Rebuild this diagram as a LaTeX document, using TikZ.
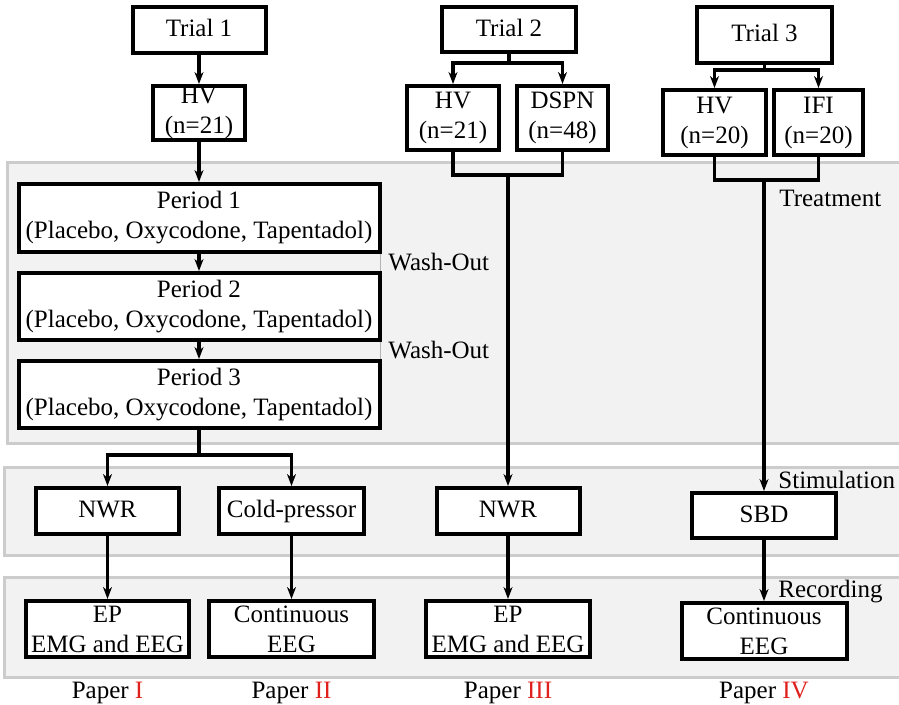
\documentclass[tikz,border=0pt]{standalone}
\usepackage{fontspec}
\setmainfont{Liberation Serif}
\usetikzlibrary{arrows.meta}
\definecolor{bandfill}{HTML}{F2F2F2}
\definecolor{bandline}{HTML}{CCCCCC}
\definecolor{papred}{HTML}{E0201B}
\begin{document}
\begin{tikzpicture}[x=0.5pt, y=-0.5pt,
                    font=\fontsize{12.5}{15}\selectfont,
                    bx/.style 2 args = {shape = rectangle,
                                        draw = black,
                                        fill = white,
                                        line width = 2pt,
                                        inner sep = 0pt,
                                        align = center,
                                        minimum width = #1*0.5pt,
                                        minimum height = #2*0.5pt},
                    oneline/.style = {text height = 0.66em, text depth = 0pt},
                    band/.style = {draw = bandline, fill = bandfill, line width = 1.5pt},
                    lbl/.style = {anchor = west, inner sep = 1pt},
                    arr/.style = {line width = 1.6pt, -{Stealth[length=6pt, width=4.5pt]}},
                    ln/.style = {line width = 1.6pt}]
	\useasboundingbox (0,0) rectangle (899,705);
	% background bands
	\begin{scope}
		\clip (0,0) rectangle (899,705);
		\draw[band] (7,163) rectangle (910,443);
		\draw[band] (4,467) rectangle (910,555);
		\draw[band] (4,577) rectangle (910,677);
		\draw[gray!60, line width=0.5pt] (380,183) -- (380,430);
	\end{scope}
	% trial 1
	\node[bx={133}{46}, oneline] (trialA) at (199,30) {Trial 1};
	\node[bx={92}{54}] (hvA) at (199,113) {HV\\(n=21)};
	\node[bx={361}{68}] (perA) at (199,218) {Period 1\\(Placebo, Oxycodone, Tapentadol)};
	\node[bx={361}{67}] (perB) at (199,306.5) {Period 2\\(Placebo, Oxycodone, Tapentadol)};
	\node[bx={361}{67}] (perC) at (199,394.5) {Period 3\\(Placebo, Oxycodone, Tapentadol)};
	\node[bx={143}{46}, oneline] (nwrA) at (107.5,511) {NWR};
	\node[bx={145}{46}, oneline] (cold) at (291.5,511) {Cold-pressor};
	\node[bx={163}{56}] (epA) at (107.5,629) {EP\\EMG and EEG};
	\node[bx={165}{56}] (contA) at (291.5,629) {Continuous\\EEG};
	% trial 2
	\node[bx={134}{45}, oneline] (trialB) at (509,29.5) {Trial 2};
	\node[bx={92}{64}] (hvB) at (453,118) {HV\\(n=21)};
	\node[bx={91}{64}] (dspn) at (562.5,118) {DSPN\\(n=48)};
	\node[bx={143}{46}, oneline] (nwrB) at (508,511) {NWR};
	\node[bx={164}{56}] (epB) at (508,629) {EP\\EMG and EEG};
	% trial 3
	\node[bx={135}{56}, oneline] (trialC) at (764.5,35) {Trial 3};
	\node[bx={103}{65}] (hvC) at (714.5,122.5) {HV\\(n=20)};
	\node[bx={89}{65}] (ifi) at (818.5,122.5) {IFI\\(n=20)};
	\node[bx={144}{45}, oneline] (sbd) at (764,515.5) {SBD};
	\node[bx={165}{56}] (contB) at (764,631) {Continuous\\EEG};
	% labels
	\node[lbl, fill=bandfill] (washA) at (386,262) {Wash-Out};
	\node[lbl, fill=bandfill] (washB) at (386,350) {Wash-Out};
	\node[lbl] (treat) at (777,198) {Treatment};
	\node[lbl] (stim) at (776,480) {Stimulation};
	\node[lbl] (rec) at (776,592) {Recording};
	\node (papA) at (107.5,693) {Paper \textcolor{papred}{I}};
	\node (papB) at (291.5,693) {Paper \textcolor{papred}{II}};
	\node (papC) at (508,693) {Paper \textcolor{papred}{III}};
	\node (papD) at (764,693) {Paper \textcolor{papred}{IV}};
	% split and merge points
	\coordinate (splitB) at (509,63);
	\coordinate (splitC) at (764.5,70);
	\coordinate (mergeB) at (508,175);
	\coordinate (mergeC) at (764,180);
	\coordinate (splitA) at (199,455);
	% trial 1 connectors
	\draw[arr] (trialA) -- (hvA);
	\draw[arr] (hvA) -- (perA);
	\draw[arr] (perA) -- (perB);
	\draw[arr] (perB) -- (perC);
	\draw[ln] (perC) -- (splitA);
	\draw[arr] (splitA) -| (nwrA.north);
	\draw[arr] (splitA) -| (cold.north);
	\draw[arr] (nwrA) -- (epA);
	\draw[arr] (cold) -- (contA);
	% trial 2 connectors
	\draw[ln] (trialB) -- (splitB);
	\draw[arr] (splitB) -| (hvB.north);
	\draw[arr] (splitB) -| (dspn.north);
	\draw[ln] (hvB.south) |- (mergeB);
	\draw[ln] (dspn.south) |- (mergeB);
	\draw[arr] (mergeB) -- (nwrB);
	\draw[arr] (nwrB) -- (epB);
	% trial 3 connectors
	\draw[ln] (trialC) -- (splitC);
	\draw[arr] (splitC) -| (hvC.north);
	\draw[arr] (splitC) -| (ifi.north);
	\draw[ln] (hvC.south) |- (mergeC);
	\draw[ln] (ifi.south) |- (mergeC);
	\draw[arr] (mergeC) -- (sbd);
	\draw[arr] (sbd) -- (contB);
\end{tikzpicture}
\end{document}
